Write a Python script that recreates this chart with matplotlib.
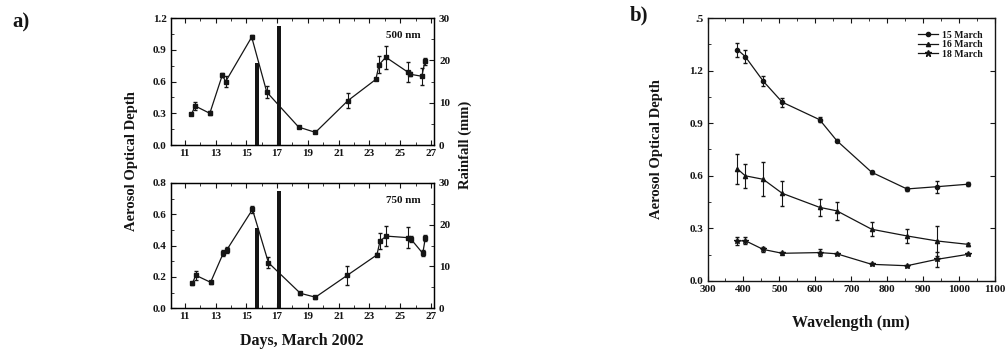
import numpy as np
import matplotlib.pyplot as plt
from matplotlib.ticker import MultipleLocator
from matplotlib.lines import Line2D

plt.rcParams['font.family'] = ['Liberation Serif', 'DejaVu Serif']
plt.rcParams['font.weight'] = 'bold'
INK = '#151515'

# ---- panel a: daily AOD at 500 nm and 750 nm, rainfall bars
days_500 = [11.44, 11.67, 12.63, 13.44, 13.66, 15.35, 16.33, 18.4, 19.49, 21.6, 23.41, 23.63, 24.06, 25.48, 25.6, 26.4, 26.6]
aod_500 = [0.29, 0.37, 0.30, 0.66, 0.60, 1.02, 0.50, 0.17, 0.12, 0.42, 0.62, 0.76, 0.83, 0.69, 0.67, 0.65, 0.79]
err_500 = [0.01, 0.04, 0.02, 0.02, 0.05, 0.02, 0.06, 0.01, 0.01, 0.07, 0.01, 0.08, 0.11, 0.09, 0.02, 0.08, 0.03]

days_750 = [11.5, 11.72, 12.68, 13.5, 13.72, 15.4, 16.44, 18.51, 19.49, 21.56, 23.48, 23.69, 24.1, 25.52, 25.7, 26.46, 26.63]
aod_750 = [0.16, 0.21, 0.165, 0.35, 0.37, 0.63, 0.29, 0.095, 0.07, 0.21, 0.34, 0.43, 0.46, 0.45, 0.44, 0.35, 0.45]
err_750 = [0.01, 0.03, 0.01, 0.02, 0.02, 0.02, 0.035, 0.01, 0.01, 0.06, 0.01, 0.05, 0.065, 0.065, 0.02, 0.02, 0.02]

rain_days = [15.7, 17.14]
rain_mm = [19.3, 28.0]

# ---- panel b: spectral AOD
wl = [383, 405, 455, 508, 612, 660, 757, 855, 940, 1025]
aod_15 = [1.32, 1.28, 1.14, 1.02, 0.92, 0.80, 0.62, 0.525, 0.538, 0.552]
err_15 = [0.04, 0.035, 0.03, 0.025, 0.015, 0.01, 0.01, 0.01, 0.035, 0.01]
aod_16 = [0.64, 0.60, 0.58, 0.50, 0.42, 0.40, 0.295, 0.257, 0.228, 0.209]
err_16 = [0.087, 0.068, 0.097, 0.072, 0.05, 0.053, 0.039, 0.042, 0.086, 0.01]
aod_18 = [0.228, 0.23, 0.18, 0.158, 0.162, 0.155, 0.095, 0.087, 0.124, 0.152]
err_18 = [0.023, 0.02, 0.015, 0.01, 0.02, 0.005, 0.005, 0.005, 0.042, 0.005]
labels_b = ['15 March', '16 March', '18 March']
markers_b = ['o', '^', '*']

TICK_FS = 8


def style(ax):
  ax.tick_params(which='both', direction='in', top=True, labelsize=TICK_FS, colors=INK, pad=3)
  ax.tick_params(which='major', length=3.5)
  ax.tick_params(which='minor', length=2)
  for s in ax.spines.values():
    s.set_color(INK)
    s.set_linewidth(1.0)


fig = plt.figure(figsize=(10.05, 3.53), dpi=100)

panels = [
  ([0.170, 0.589, 0.262, 0.360], days_500, aod_500, err_500, 1.2, 0.3, '500 nm'),
  ([0.170, 0.127, 0.262, 0.355], days_750, aod_750, err_750, 0.8, 0.2, '750 nm'),
]
for rect, d, a, e, top, step, lab in panels:
  ax = fig.add_axes(rect)
  ax.errorbar(d, a, yerr=e, color=INK, lw=0.9, marker='s', ms=2.5, capsize=1.5, elinewidth=0.8)
  ax.set_xlim(10.1, 27.2)
  ax.set_ylim(0, top)
  ax.set_xticks(range(11, 28, 2))
  ax.xaxis.set_minor_locator(MultipleLocator(1))
  ax.set_yticks(np.arange(0, top + 0.01, step))
  ax.set_yticklabels([f'{v:.1f}' for v in np.arange(0, top + 0.01, step)])
  ax.yaxis.set_minor_locator(MultipleLocator(step / 2))
  style(ax)
  ax.text(0.95, 0.84, lab, transform=ax.transAxes, ha='right', fontsize=8, color=INK)
  ax2 = ax.twinx()
  ax2.bar(rain_days, rain_mm, width=0.28, color=INK)
  ax2.set_ylim(0, 30)
  ax2.set_yticks([0, 10, 20, 30])
  ax2.yaxis.set_minor_locator(MultipleLocator(5))
  ax2.tick_params(which='both', direction='in', labelsize=TICK_FS, colors=INK)
  ax2.tick_params(which='major', length=3.5)
  ax2.tick_params(which='minor', length=2)

fig.text(0.131, 0.545, 'Aerosol Optical Depth', rotation=90, ha='center', va='center', fontsize=10.5, color=INK)
fig.text(0.463, 0.59, 'Rainfall (mm)', rotation=90, ha='center', va='center', fontsize=10.5, color=INK)
fig.text(0.30, 0.035, 'Days, March 2002', ha='center', va='center', fontsize=11.5, color=INK)
fig.text(0.012, 0.935, 'a)', fontsize=15, color=INK, va='center')

# panel b
axb = fig.add_axes([0.704, 0.204, 0.286, 0.745])
for vals, errs, mk in zip([aod_15, aod_16, aod_18], [err_15, err_16, err_18], markers_b):
  axb.errorbar(wl, vals, yerr=errs, color=INK, lw=0.9, marker=mk, ms=3 if mk != '*' else 4,
               capsize=1.5, elinewidth=0.8)
axb.set_xlim(300, 1100)
axb.set_ylim(0, 1.5)
axb.set_xticks(range(300, 1101, 100))
axb.xaxis.set_minor_locator(MultipleLocator(50))
axb.set_yticks([0, 0.3, 0.6, 0.9, 1.2, 1.5])
axb.set_yticklabels(['0.0', '0.3', '0.6', '0.9', '1.2', '.5'])
axb.yaxis.set_minor_locator(MultipleLocator(0.15))
style(axb)
axb.tick_params(right=True)
axb.set_xlabel('Wavelength (nm)', fontsize=11.5, fontweight='bold', color=INK, labelpad=15)
axb.set_ylabel('Aerosol Optical Depth', fontsize=10.5, fontweight='bold', color=INK, labelpad=19)
handles = [Line2D([], [], color=INK, lw=0.9, marker=mk, ms=3 if mk != '*' else 4.5) for mk in markers_b]
leg = axb.legend(handles, labels_b, loc='upper right', fontsize=7, frameon=False, handlelength=2.0,
                 handletextpad=0.4, borderaxespad=0.9, labelspacing=0.05)
for t in leg.get_texts():
  t.set_color(INK)
fig.text(0.627, 0.955, 'b)', fontsize=15, color=INK, va='center')

fig.savefig('out.png', dpi=100)
